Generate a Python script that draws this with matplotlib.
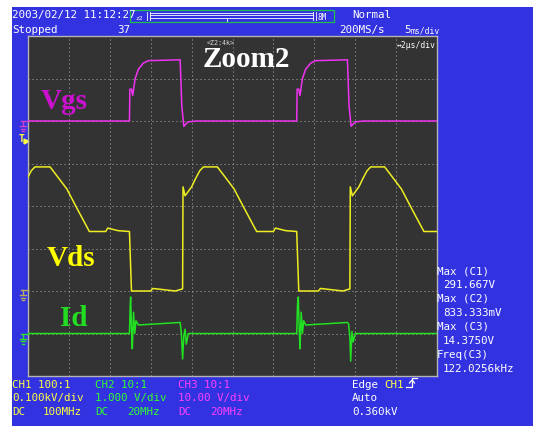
import matplotlib
matplotlib.use("Agg")
import matplotlib.pyplot as plt
from matplotlib.patches import Rectangle
from matplotlib.lines import Line2D

W, H = 533, 427
BLUE = "#3232e0"
SCREEN = "#333333"
GRID = "#a8a8a8"
MONO = "DejaVu Sans Mono"
SERIF = "Liberation Serif"

C_VGS = "#f033f0"
C_VDS = "#eeee22"
C_ID = "#22e022"
T_YEL = "#ffff40"
T_GRN = "#30ff30"
T_MAG = "#ff40ff"

# traces, in screen divisions (10 x 8 grid, 2 us/div)
vgs_t = [0, 2.48, 2.49, 2.53, 2.56, 2.62, 2.70, 2.82, 2.94, 3.72, 3.76, 3.81, 3.91, 4.13,
         6.57, 6.58, 6.62, 6.65, 6.71, 6.79, 6.91, 7.03, 7.81, 7.85, 7.90, 8.00, 8.22, 10]
vgs_v = [6.0, 6.0, 6.75, 6.75, 6.6, 7.0, 7.22, 7.36, 7.42, 7.44, 6.36, 5.875, 5.98, 6.0,
         6.0, 6.75, 6.75, 6.6, 7.0, 7.22, 7.36, 7.42, 7.44, 6.36, 5.875, 5.98, 6.0, 6.0]

vds_t = [0, 0.08, 0.17, 0.54, 0.73, 0.95, 1.20, 1.50, 1.90, 1.95, 2.20, 2.48, 2.53, 3.00,
         3.05, 3.60, 3.78, 3.79, 3.84, 4.00, 4.10, 4.20, 4.29, 4.63, 4.82, 5.04, 5.29,
         5.59, 6.00, 6.05, 6.30, 6.57, 6.62, 7.10, 7.15, 7.70, 7.87, 7.88, 7.93, 8.09,
         8.19, 8.29, 8.38, 8.72, 8.91, 9.13, 9.38, 9.68, 10]
vds_v = [4.68, 4.83, 4.92, 4.92, 4.68, 4.40, 3.94, 3.40, 3.40, 3.48, 3.42, 3.40, 2.00, 2.00,
         2.06, 2.00, 2.05, 4.45, 4.24, 4.45, 4.65, 4.83, 4.92, 4.92, 4.68, 4.40, 3.94,
         3.40, 3.40, 3.48, 3.42, 3.40, 2.00, 2.00, 2.06, 2.00, 2.05, 4.45, 4.24, 4.45,
         4.65, 4.83, 4.92, 4.92, 4.68, 4.40, 3.94, 3.40, 3.40]

id_t = [0, 2.48, 2.50, 2.51, 2.53, 2.55, 2.58, 2.61, 2.64, 2.70, 3.72, 3.75, 3.78, 3.81,
        3.84, 3.87, 3.92, 6.57, 6.59, 6.61, 6.63, 6.65, 6.68, 6.71, 6.74, 6.79, 7.81, 7.84,
        7.87, 7.89, 7.92, 7.95, 8.00, 10]
id_v = [1.0, 1.0, 1.7, 1.86, 1.1, 0.64, 1.5, 1.0, 1.3, 1.2, 1.26, 1.0, 0.4, 0.95,
        1.1, 0.75, 1.0, 1.0, 1.7, 1.86, 1.1, 0.64, 1.5, 1.0, 1.3, 1.2, 1.26, 1.22,
        0.9, 0.35, 1.05, 0.8, 1.0, 1.0]

header_date = "2003/02/12 11:12:27"
header_state = "Stopped"
header_count = "37"
acq_mode = "Normal"
sample_rate = "200MS/s"
main_scale = "5ms/div"
zoom_scale = "\u21942\u00b5s/div"

ch_probe = ["CH1 100:1", "CH2 10:1", "CH3 10:1"]
ch_scale = ["0.100kV/div", "1.000 V/div", "10.00 V/div"]
ch_bw = ["100MHz", "20MHz", "20MHz"]
ch_colors = [T_YEL, T_GRN, T_MAG]

meas_names = ["Max (C1)", "Max (C2)", "Max (C3)", "Freq(C3)"]
meas_values = ["291.667V", "833.333mV", "14.3750V", "122.0256kHz"]

trig_level = 5.6   # 0.360 kV at 0.1 kV/div above CH1 ground


def fx(x):
    return x / W


def fy(y):
    return 1 - y / H


def ftext(x, y, s, color="white", size=7.8, **kw):
    fig.text(fx(x), fy(y), s, color=color, fontsize=size, family=MONO,
             ha="left", va="baseline", **kw)


fig = plt.figure(figsize=(W / 100, H / 100), dpi=100)
fig.patch.set_facecolor("white")
fig.add_artist(Rectangle((fx(12), 0), 1 - fx(12), fy(8), transform=fig.transFigure,
                         facecolor=BLUE, edgecolor="none", zorder=0))

ax = fig.add_axes([fx(28), fy(377), 409 / W, 340 / H])
ax.set_facecolor(SCREEN)
ax.set_xlim(0, 10)
ax.set_ylim(0, 8)
ax.set_xticks([])
ax.set_yticks([])
for s in ax.spines.values():
    s.set_color("#b4b4b4")
    s.set_linewidth(1.0)
for i in range(1, 10):
    ax.axvline(i, color=GRID, lw=0.72, ls=(0, (1, 3)), zorder=1)
for j in range(1, 8):
    ax.axhline(j, color=GRID, lw=0.72, ls=(0, (1, 3)), zorder=1)

ax.plot(vgs_t, vgs_v, color=C_VGS, lw=1.1, zorder=3)
ax.plot(vds_t, vds_v, color=C_VDS, lw=1.1, zorder=3)
ax.plot(id_t, id_v, color=C_ID, lw=1.1, zorder=4)

# channel labels
ax.text(0.3, (377 - 109) / 42.5, "Vgs", color="#cc10d0", fontsize=21, family=SERIF,
        weight="bold", va="baseline")
ax.text(0.46, (377 - 266.5) / 42.5, "Vds", color="#ffff00", fontsize=21, family=SERIF,
        weight="bold", va="baseline")
ax.text(0.78, (377 - 326) / 42.5, "Id", color="#22dd22", fontsize=21, family=SERIF,
        weight="bold", va="baseline")
ax.text(4.28, (377 - 67) / 42.5, "Zoom2", color="white", fontsize=21, family=SERIF,
        weight="bold", va="baseline")
ax.text(4.38, 7.87, "<Z2:4k>", color="#d8d8d8", fontsize=4.8, family=MONO, va="center")
ax.text(9.98, 7.80, zoom_scale, color="white", fontsize=5.8, family=MONO,
        ha="right", va="center")


# ground markers left of the screen
def ground(y0, color):
    kw = dict(color=color, lw=1.0, clip_on=False, zorder=5)
    ax.plot([-0.17, 0.0], [y0, y0], **kw)
    ax.plot([-0.12, -0.12], [y0, y0 - 0.12], **kw)
    ax.plot([-0.2, -0.04], [y0 - 0.12, y0 - 0.12], **kw)
    ax.plot([-0.17, -0.07], [y0 - 0.18, y0 - 0.18], **kw)
    ax.plot([-0.14, -0.10], [y0 - 0.24, y0 - 0.24], **kw)


ground(vgs_v[0], "#d040d0")
ground(2.02, "#b8b060")
ground(id_v[0], "#30e030")
ax.text(-0.22, trig_level, "T", color=T_YEL, fontsize=7, family=MONO, weight="bold",
        va="center", ha="left", clip_on=False)
ax.plot([-0.04], [trig_level - 0.08], marker=">", color=T_YEL, ms=3.5, clip_on=False)

# header
ftext(12, 18, header_date)
ftext(12, 33, header_state)
ftext(117, 33, header_count)
ftext(352, 18, acq_mode)
ftext(339, 33, sample_rate)
ftext(404, 33, main_scale[0])
ftext(411, 33, main_scale[1:], size=5.8)

# zoom position bar
fig.add_artist(Rectangle((fx(130), fy(23)), 204 / W, 12 / H, transform=fig.transFigure,
                         facecolor="none", edgecolor="#20c050", lw=0.9))
for yy in (13.5, 16.0, 19.0):
    fig.add_artist(Line2D([fx(150), fx(313)], [fy(yy), fy(yy)], color="white", lw=0.6))
for xx in (147, 149.5, 313, 315.5):
    fig.add_artist(Line2D([fx(xx), fx(xx)], [fy(12.5), fy(21)], color="white", lw=0.6))
fig.add_artist(Line2D([fx(227), fx(227)], [fy(19), fy(21.5)], color="white", lw=0.6))
ftext(135, 20, "z2", size=4.5)
ftext(318, 20, "8M", size=5.5)

# channel settings
col_x = [12, 95, 178]
bw_x = [43, 127, 210]
for k in range(3):
    ftext(col_x[k], 388, ch_probe[k], color=ch_colors[k])
    ftext(col_x[k], 401.5, ch_scale[k], color=ch_colors[k])
    ftext(col_x[k], 415.5, "DC", color=ch_colors[k])
    ftext(bw_x[k], 415.5, ch_bw[k], color=ch_colors[k])

# trigger settings
ftext(352, 388, "Edge")
ftext(384, 388, "CH1", color=T_YEL)
fig.add_artist(Line2D([fx(406), fx(412), fx(412), fx(417)],
                      [fy(388), fy(388), fy(379), fy(379)], color="white", lw=0.9))
fig.add_artist(Line2D([fx(409.5), fx(412), fx(414.5)], [fy(384), fy(381), fy(384)],
                      color="white", lw=0.9))
ftext(352, 401.5, "Auto")
ftext(352, 415.5, "0.360kV")

# measurements
for k in range(4):
    ftext(437, 274 + 28 * k, meas_names[k])
    ftext(443, 288 + 28 * k, meas_values[k])

fig.savefig("out.png", dpi=100)
